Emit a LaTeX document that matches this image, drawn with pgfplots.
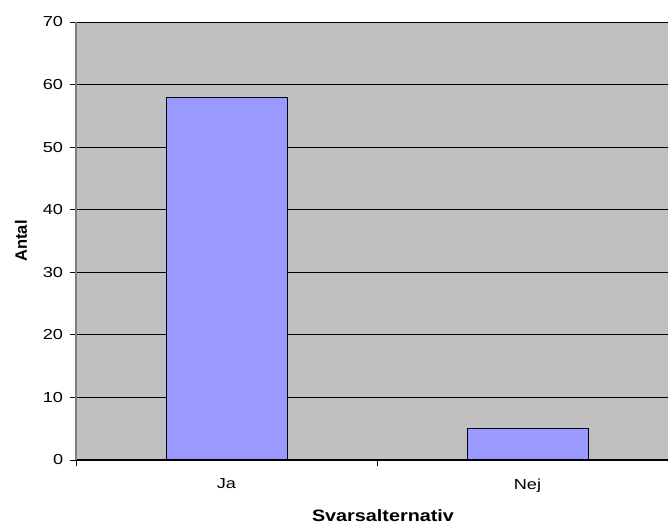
\documentclass[border=0pt]{standalone}
\usepackage{pgfplots}
\pgfplotsset{compat=1.18}
\usepackage{fontspec}
\setmainfont{Liberation Sans}
\definecolor{plotbg}{HTML}{C0C0C0}
\definecolor{barfill}{HTML}{9999FF}
\definecolor{axisgray}{HTML}{808080}
\begin{document}
\begin{tikzpicture}
\useasboundingbox (0pt,0pt) rectangle (668pt,526pt);
\begin{axis}[
  at={(76pt,66pt)}, anchor=south west,
  scale only axis,
  width=602pt, height=438pt,
  xmin=-0.5, xmax=1.5,
  ymin=0, ymax=70,
  ytick={0,10,...,70},
  xtick={0,1},
  xticklabels={Ja,Nej},
  minor xtick={-0.5,0.5,1.5},
  axis x line*=bottom,
  axis y line*=left,
  axis background/.style={fill=plotbg},
  ymajorgrids,
  major grid style={black, line width=0.8pt},
  tick align=outside,
  major tick length=6pt,
  minor tick length=6pt,
  x tick style={draw=none},
  minor x tick style={draw=black, line width=0.8pt},
  y tick style={black, line width=0.8pt},
  x axis line style={black, line width=1pt},
  y axis line style={axisgray, line width=1.6pt},
  tick label style={font=\fontsize{14.5}{17}\selectfont, xscale=1.25},
  /pgf/number format/assume math mode=true,
  yticklabel style={xshift=-2pt},
  xticklabel style={yshift=-9pt},
  xlabel={Svarsalternativ},
  ylabel={Antal},
  label style={font=\fontsize{16.5}{19}\selectfont\bfseries},
  xlabel style={at={(axis description cs:0.5,0)}, anchor=north,
    inner sep=0pt, xshift=6pt, yshift=-49pt, xscale=1.2},
  ylabel style={at={(axis description cs:0,0.5)}, anchor=center,
    yshift=55pt},
  ybar, bar width=121pt,
  clip=false,
]
\addplot[fill=barfill, draw=black, line width=1pt] coordinates {(0,58) (1,5)};
\end{axis}
\end{tikzpicture}
\end{document}
